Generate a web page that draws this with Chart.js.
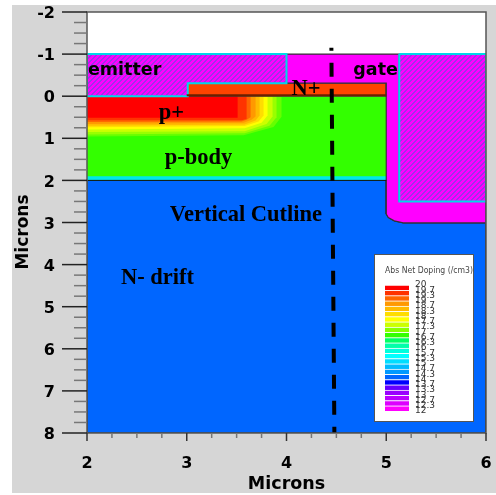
<!DOCTYPE html>
<html>
<head>
<meta charset="utf-8">
<title>Abs Net Doping</title>
<script src="https://cdn.jsdelivr.net/npm/chart.js@4"></script>
<style>
  html, body { margin: 0; padding: 0; background: #fff; }
  #page { position: relative; width: 496px; height: 495px; overflow: hidden; }
  #grey { position: absolute; left: 12px; top: 5px; width: 484px; height: 488px; background: #d6d6d6; }
  #mainBox { position: absolute; left: 0; top: 0; width: 496px; height: 495px; }
  #legendBox { position: absolute; left: 374px; top: 254px; width: 98px; height: 166px; background: #fff; border: 1px solid #555; }
</style>
</head>
<body>
<div id="page">
  <div id="grey"></div>
  <div id="mainBox"><canvas id="deviceChart" width="496" height="495"></canvas></div>
  <div id="legendBox"><canvas id="legendChart" width="98" height="166"></canvas></div>
</div>
<script>
// ====== DATA (microns) ======
const driftRegion = [[2, 2], [5, 2], [5, 2.8], [5.02, 2.88], [5.08, 2.96], [5.17, 3.01], [6, 3.01], [6, 8], [2, 8], [2, 2]];
const bodyRegion = [[2, 0], [5, 0], [5, 2], [2, 2], [2, 0]];
const bodyEdgeStrip = [[2, 1.9], [5, 1.9], [5, 2], [2, 2], [2, 1.9]];
const nPlusRegion = [[3, -0.31], [5, -0.31], [5, 0], [3, 0], [3, -0.31]];
const gateRegion = [[4, -1], [5.13, -1], [5.13, 2.5], [6, 2.5], [6, 3.01], [5.17, 3.01], [5.08, 2.96], [5.02, 2.88], [5, 2.8], [5, -0.31], [4, -0.31], [4, -1]];
const emitterOxide = [[2, -1], [4, -1], [4, -0.31], [3.01, -0.31], [3.01, 0], [2, 0], [2, -1]];
const rightOxide = [[5.13, -1], [6, -1], [6, 2.5], [5.13, 2.5], [5.13, -1]];
const junctionLine = [[3, -0.02], [5, -0.02]];
const metalLine = [[2, 2], [5, 2]];
const cutline = [[4.45, -1.15], [4.48, 8]];

// p+ doping contours, outermost first
const contourColors = ['#66ff00', '#99ff00', '#ccff00', '#ffff00', '#ffdd00', '#ffbb00', '#ff9900', '#ff6600', '#ff3300', '#ff0000'];
const contour1 = [[2, 0], [3.95, 0], [3.95, 0.49], [3.87, 0.73], [3.57, 0.93], [2, 0.96], [2, 0]];
const contour2 = [[2, 0], [3.9, 0], [3.9, 0.5], [3.83, 0.7], [3.58, 0.88], [2, 0.91], [2, 0]];
const contour3 = [[2, 0], [3.86, 0], [3.86, 0.48], [3.8, 0.66], [3.58, 0.83], [2, 0.85], [2, 0]];
const contour4 = [[2, 0], [3.81, 0], [3.81, 0.46], [3.75, 0.63], [3.58, 0.76], [2, 0.79], [2, 0]];
const contour5 = [[2, 0], [3.77, 0], [3.77, 0.46], [3.72, 0.6], [3.58, 0.71], [2, 0.74], [2, 0]];
const contour6 = [[2, 0], [3.73, 0], [3.73, 0.46], [3.69, 0.58], [3.58, 0.67], [2, 0.7], [2, 0]];
const contour7 = [[2, 0], [3.69, 0], [3.69, 0.48], [3.65, 0.56], [3.57, 0.63], [2, 0.66], [2, 0]];
const contour8 = [[2, 0], [3.64, 0], [3.64, 0.5], [3.6, 0.56], [3.55, 0.6], [2, 0.61], [2, 0]];
const contour9 = [[2, 0], [3.6, 0], [3.6, 0.54], [3.55, 0.57], [2, 0.57], [2, 0]];
const contour10 = [[2, 0], [3.51, 0], [3.51, 0.51], [2, 0.51], [2, 0]];
const contours = [contour1, contour2, contour3, contour4, contour5, contour6, contour7, contour8, contour9, contour10];

const legendTitle = 'Abs Net Doping (/cm3)';
const legendLabels = ['12', '12.3', '12.7', '13', '13.3', '13.7', '14', '14.3', '14.7', '15', '15.3', '15.7', '16', '16.3', '16.7', '17', '17.3', '17.7', '18', '18.3', '18.7', '19', '19.3', '19.7', '20'];
const legendColors = ['#ff00ff', '#dd00ff', '#bb00ff', '#9900ff', '#6600ff', '#0000ff', '#0066ff', '#0099ff', '#00bbff', '#00ddff', '#00ffff', '#00ffdd', '#00ffaa', '#00ff66', '#33ff00', '#88ff00', '#ccff00', '#ffff00', '#ffdd00', '#ffbb00', '#ff9900', '#ff6600', '#ff3300', '#ff0000'];

const axisTitle = 'Microns';
const sansBold = 'bold 17.5px "DejaVu Sans"';
const serifBold = 'bold 22.5px "Liberation Serif"';
const regionLabels = [
    { text: 'emitter', x: 2.01, y: -0.5, font: sansBold },
    { text: 'gate', x: 4.67, y: -0.5, font: sansBold },
    { text: 'N+', x: 4.05, y: -0.03, font: serifBold },
    { text: 'p+', x: 2.72, y: 0.55, font: serifBold },
    { text: 'p-body', x: 2.78, y: 1.62, font: serifBold },
    { text: 'Vertical Cutline', x: 2.83, y: 2.97, font: serifBold },
    { text: 'N- drift', x: 2.34, y: 4.47, font: serifBold }
];

// ====== HELPERS ======
function toPoints(pairs) {
    return pairs.map(p => ({ x: p[0], y: p[1] }));
}

function hatchPattern() {
    const tile = document.createElement('canvas');
    tile.width = 5;
    tile.height = 5;
    const c = tile.getContext('2d');
    for (let x = 0; x < 5; x++) {
        for (let y = 0; y < 5; y++) {
            c.fillStyle = (x + y) % 5 < 2 ? '#a030e8' : '#ff00ff';
            c.fillRect(x, y, 1, 1);
        }
    }
    return document.getElementById('deviceChart').getContext('2d').createPattern(tile, 'repeat');
}

function region(label, pairs, fillStyle, borderColor, borderWidth) {
    return {
        label: label,
        data: toPoints(pairs),
        showLine: true,
        fill: false,
        tension: 0,
        pointRadius: 0,
        polygon: fillStyle,
        borderColor: borderColor || 'transparent',
        borderWidth: borderWidth || 0
    };
}

// ====== PLUGINS ======
const polygonFill = {
    id: 'polygonFill',
    beforeDatasetDraw(chart, args) {
        const ds = chart.data.datasets[args.index];
        if (!ds.polygon) return;
        const pts = args.meta.data;
        const a = chart.chartArea;
        const ctx = chart.ctx;
        ctx.save();
        ctx.beginPath();
        ctx.rect(a.left, a.top, a.right - a.left, a.bottom - a.top);
        ctx.clip();
        ctx.beginPath();
        pts.forEach((p, i) => i ? ctx.lineTo(p.x, p.y) : ctx.moveTo(p.x, p.y));
        ctx.closePath();
        ctx.fillStyle = ds.polygon;
        ctx.fill();
        ctx.restore();
    }
};

const plotFrame = {
    id: 'plotFrame',
    beforeDatasetsDraw(chart) {
        const a = chart.chartArea;
        chart.ctx.fillStyle = '#fff';
        chart.ctx.fillRect(a.left, a.top, a.right - a.left, a.bottom - a.top);
    },
    afterDatasetsDraw(chart) {
        const ctx = chart.ctx;
        const a = chart.chartArea;
        ctx.save();
        ctx.strokeStyle = '#555';
        ctx.lineWidth = 1.5;
        ctx.strokeRect(a.left, a.top, a.right - a.left, a.bottom - a.top);

        // long ticks on whole microns, short ones between
        chart.scales.y.ticks.forEach(t => {
            const py = chart.scales.y.getPixelForValue(t.value);
            const major = Number.isInteger(t.value);
            ctx.strokeStyle = major ? '#222' : '#777';
            ctx.beginPath();
            ctx.moveTo(a.left - (major ? 25 : 13), py);
            ctx.lineTo(a.left, py);
            ctx.stroke();
            if (major) {
                // y labels sit a touch under their tick in the original
                ctx.fillStyle = '#000';
                ctx.font = 'bold 16px "DejaVu Sans"';
                ctx.textAlign = 'right';
                ctx.textBaseline = 'middle';
                ctx.fillText(String(t.value), a.left - 32, py + 2);
            }
        });
        chart.scales.x.ticks.forEach(t => {
            const px = chart.scales.x.getPixelForValue(t.value);
            const major = Number.isInteger(t.value);
            ctx.strokeStyle = major ? '#333' : '#777';
            ctx.beginPath();
            ctx.moveTo(px, a.bottom);
            ctx.lineTo(px, a.bottom + (major ? 8 : 5));
            ctx.stroke();
        });

        // region names
        ctx.fillStyle = '#000';
        ctx.textAlign = 'left';
        ctx.textBaseline = 'alphabetic';
        regionLabels.forEach(l => {
            ctx.font = l.font;
            ctx.fillText(l.text, chart.scales.x.getPixelForValue(l.x), chart.scales.y.getPixelForValue(l.y));
        });

        // y title sits a bit below the middle of the axis
        ctx.font = 'bold 17px "DejaVu Sans"';
        ctx.textAlign = 'center';
        ctx.translate(28, 232);
        ctx.rotate(-Math.PI / 2);
        ctx.fillText(axisTitle, 0, 0);
        ctx.restore();
    }
};

// ====== MAIN CHART ======
const layers = [
    region('N- drift', driftRegion, '#0066ff', '#222', 1),
    region('p-body', bodyRegion, '#33ff00'),
    region('body edge', bodyEdgeStrip, '#00e8e8')
];
contours.forEach((c, i) => layers.push(region('contour ' + (i + 1), c, contourColors[i])));
layers.push(region('N+', nPlusRegion, '#ff4400', '#333', 1));
layers.push(region('gate', gateRegion, '#ff00ff', '#333', 1.2));
layers.push(region('emitter', emitterOxide, hatchPattern(), '#00d8e8', 2));
layers.push(region('right oxide', rightOxide, hatchPattern(), '#00d8e8', 2));
layers.push(region('junction', junctionLine, null, '#6b2000', 2));
layers.push(region('metal', metalLine, null, '#111', 1));
const cutLayer = region('Vertical Cutline', cutline, null, '#000', 4);
cutLayer.borderDash = [14, 12];
cutLayer.borderDashOffset = 11;
cutLayer.clip = false;
layers.push(cutLayer);
// chart.js paints low order last, so reverse the painter's order
layers.forEach((d, i) => { d.order = layers.length - i; });

new Chart(document.getElementById('deviceChart'), {
    type: 'scatter',
    data: { datasets: layers },
    options: {
        responsive: false,
        animation: false,
        layout: { padding: { top: 12, right: 10, left: 0, bottom: 0 } },
        plugins: { legend: { display: false }, tooltip: { enabled: false } },
        scales: {
            x: {
                type: 'linear',
                min: 2,
                max: 6,
                afterFit: s => { s.height = 62; s.paddingLeft = 0; s.paddingRight = 0; },
                grid: { drawOnChartArea: false, drawTicks: true, tickLength: 8, tickColor: 'transparent' },
                border: { display: false },
                ticks: {
                    stepSize: 0.25,
                    padding: 13,
                    maxRotation: 0,
                    autoSkip: false,
                    color: '#000',
                    font: { family: 'DejaVu Sans', weight: 'bold', size: 16 },
                    callback: v => Number.isInteger(v) ? String(v) : ''
                },
                title: { display: true, text: axisTitle, color: '#000', padding: { top: 2, bottom: 0 }, font: { family: 'DejaVu Sans', weight: 'bold', size: 17.5 } }
            },
            y: {
                type: 'linear',
                reverse: true,
                min: -2,
                max: 8,
                afterFit: s => { s.width = 87; s.paddingTop = 0; s.paddingBottom = 0; },
                grid: { drawOnChartArea: false, tickLength: 25, tickColor: 'transparent' },
                border: { display: false },
                ticks: {
                    display: false,
                    stepSize: 0.25,
                    autoSkip: false
                }
            }
        }
    },
    plugins: [polygonFill, plotFrame]
});

// ====== LEGEND CHART ======
new Chart(document.getElementById('legendChart'), {
    type: 'bar',
    data: {
        labels: [''],
        datasets: legendColors.map((color, i) => ({
            data: [[i, i + 1]],
            backgroundColor: color,
            borderColor: 'rgba(255,255,255,0.55)',
            borderWidth: { top: 1, bottom: 0, left: 0, right: 0 },
            borderSkipped: false,
            grouped: false,
            barPercentage: 1,
            categoryPercentage: 1
        }))
    },
    options: {
        responsive: false,
        animation: false,
        layout: { padding: { left: 10, right: 0, top: 0, bottom: 10 } },
        plugins: {
            legend: { display: false },
            tooltip: { enabled: false },
            title: {
                display: true,
                text: legendTitle,
                align: 'start',
                color: '#444',
                padding: { top: 11, bottom: 9 },
                font: { family: 'DejaVu Sans', size: 8.4, weight: 'normal' }
            }
        },
        scales: {
            x: { display: false },
            y: {
                position: 'right',
                min: 0,
                max: 24,
                afterFit: s => { s.width = 64; s.paddingTop = 0; s.paddingBottom = 0; },
                grid: { display: false, drawTicks: false },
                border: { display: false },
                ticks: {
                    stepSize: 1,
                    autoSkip: false,
                    padding: 6,
                    color: '#333',
                    font: { family: 'DejaVu Sans', size: 9 },
                    callback: v => legendLabels[v]
                }
            }
        }
    }
});
</script>
</body>
</html>
